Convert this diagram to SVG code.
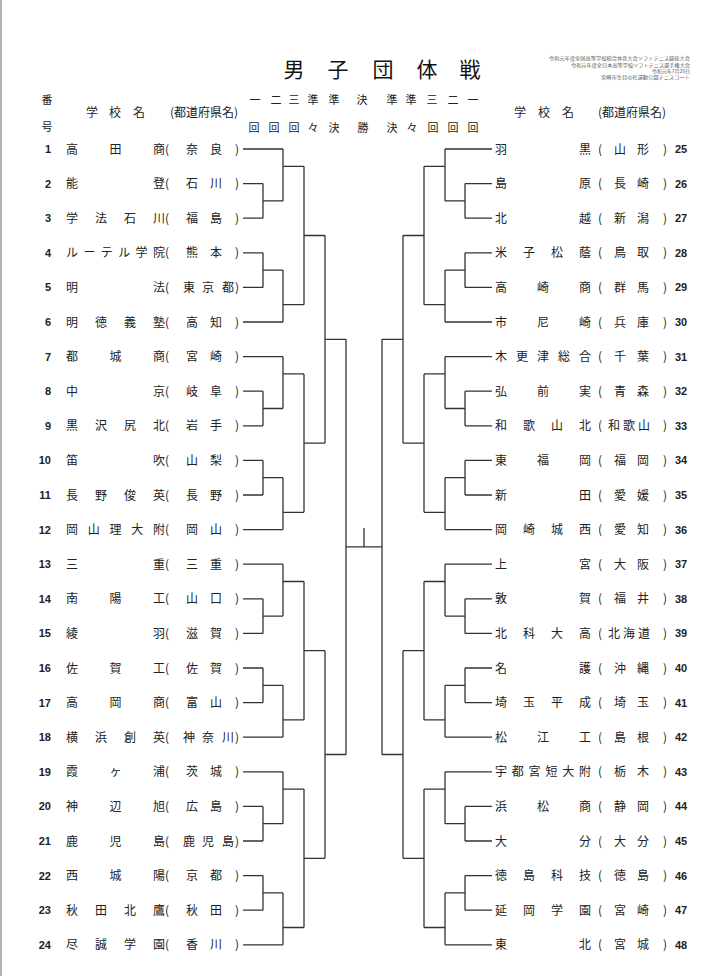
<svg xmlns="http://www.w3.org/2000/svg" width="728" height="976" viewBox="0 0 728 976">
<style>
.t{font-family:"Noto Sans CJK JP","Noto Sans CJK SC",sans-serif;font-size:12px;fill:#222;text-anchor:middle}
.h{font-family:"Noto Sans CJK JP","Noto Sans CJK SC",sans-serif;font-size:11px;fill:#222;text-anchor:middle}
.ttl{font-family:"Noto Sans CJK JP","Noto Sans CJK SC",sans-serif;font-size:21px;fill:#111;text-anchor:middle}
.sm{font-family:"Noto Sans CJK JP","Noto Sans CJK SC",sans-serif;font-size:4.2px;fill:#555;text-anchor:end}
.n{font-family:"Liberation Sans",Arial,sans-serif;font-weight:bold;font-size:11px;fill:#222}
.nl{text-anchor:end}
.ln{fill:none;stroke:#333;stroke-width:1.3}
</style>
<defs>
<path id="gL" d="M243,0H283M243,34.6H263M243,69.2H263M263,34.6V69.2M263,51.9H283M283,0V51.9M283,17.3H304M243,103.8H263M243,138.4H263M263,103.8V138.4M263,121.1H283M243,173H283M283,121.1V173M283,155.7H304M304,17.3V155.7M304,86.5H325"/>
<path id="gR" d="M492,0H445M492,34.6H465M492,69.2H465M465,34.6V69.2M465,51.9H445M445,0V51.9M445,17.3H424M492,103.8H465M492,138.4H465M465,103.8V138.4M465,121.1H445M492,173H445M445,121.1V173M445,155.7H424M424,17.3V155.7M424,86.5H403"/>
</defs>
<rect width="728" height="976" fill="#fff"/>
<line x1="1" y1="0" x2="1" y2="976" stroke="#999" stroke-width="1.5"/>

<g id="header">
<text class="ttl" x="294 338 383 427 470" y="77">男子団体戦</text>
<text class="sm" x="690" y="60.3" textLength="141" lengthAdjust="spacingAndGlyphs">令和元年度全国高等学校総合体育大会ソフトテニス競技大会</text>
<text class="sm" x="690" y="66.6" textLength="119" lengthAdjust="spacingAndGlyphs">令和元年度全日本高等学校ソフトテニス選手権大会</text>
<text class="sm" x="690" y="72.9" textLength="38" lengthAdjust="spacingAndGlyphs">令和元年7月29日</text>
<text class="sm" x="690" y="79.2" textLength="89" lengthAdjust="spacingAndGlyphs">宮崎市生目の杜運動公園テニスコート</text>
<text class="h" x="47" y="104">番</text>
<text class="h" x="47" y="131">号</text>
<text class="t" x="92 115 139" y="117">学校名</text>
<text class="t" x="204" y="117">(都道府県名)</text>
<text class="t" x="520 544 568" y="117">学校名</text>
<text class="t" x="632" y="117">(都道府県名)</text>
<text class="h" x="255 276 294 313 334 362 392 411 432 453 473" y="104">一二三準準決準準三二一</text>
<text class="h" x="254 274 294 313 334 363 392 412 433 453 473" y="132">回回回々決勝決々回回回</text>
</g>

<g id="connectors" class="ln">
<use href="#gL" y="149"/>
<use href="#gL" y="356.6"/>
<use href="#gL" y="564.2"/>
<use href="#gL" y="771.8"/>
<use href="#gR" y="149"/>
<use href="#gR" y="356.6"/>
<use href="#gR" y="564.2"/>
<use href="#gR" y="771.8"/>
<path d="M325,235.5V443.1M325,339.3H346M325,650.7V858.3M325,754.5H346M346,339.3V754.5M346,546.9H382M382,339.3V754.5M403,235.5V443.1M382,339.3H403M403,650.7V858.3M382,754.5H403M364,528V546.9"/>
</g>

<g id="t1" transform="translate(0,149)"><text class="n nl" x="51" y="4">1</text><text class="t" x="72 115.5 159" y="4.5">高田商</text><text class="t" x="167" y="4.5">(</text><text class="t" x="192 216" y="4.5">奈良</text><text class="t" x="237" y="4.5">)</text></g>
<g id="t2" transform="translate(0,183.6)"><text class="n nl" x="51" y="4">2</text><text class="t" x="72 159" y="4.5">能登</text><text class="t" x="167" y="4.5">(</text><text class="t" x="192 216" y="4.5">石川</text><text class="t" x="237" y="4.5">)</text></g>
<g id="t3" transform="translate(0,218.2)"><text class="n nl" x="51" y="4">3</text><text class="t" x="72 101 130 159" y="4.5">学法石川</text><text class="t" x="167" y="4.5">(</text><text class="t" x="192 216" y="4.5">福島</text><text class="t" x="237" y="4.5">)</text></g>
<g id="t4" transform="translate(0,252.8)"><text class="n nl" x="51" y="4">4</text><text class="t" x="72 89.4 106.8 124.2 141.6 159" y="4.5">ルーテル学院</text><text class="t" x="167" y="4.5">(</text><text class="t" x="192 216" y="4.5">熊本</text><text class="t" x="237" y="4.5">)</text></g>
<g id="t5" transform="translate(0,287.4)"><text class="n nl" x="51" y="4">5</text><text class="t" x="72 159" y="4.5">明法</text><text class="t" x="167" y="4.5">(</text><text class="t" x="189 208 228" y="4.5">東京都</text><text class="t" x="237" y="4.5">)</text></g>
<g id="t6" transform="translate(0,322)"><text class="n nl" x="51" y="4">6</text><text class="t" x="72 101 130 159" y="4.5">明徳義塾</text><text class="t" x="167" y="4.5">(</text><text class="t" x="192 216" y="4.5">高知</text><text class="t" x="237" y="4.5">)</text></g>
<g id="t7" transform="translate(0,356.6)"><text class="n nl" x="51" y="4">7</text><text class="t" x="72 115.5 159" y="4.5">都城商</text><text class="t" x="167" y="4.5">(</text><text class="t" x="192 216" y="4.5">宮崎</text><text class="t" x="237" y="4.5">)</text></g>
<g id="t8" transform="translate(0,391.2)"><text class="n nl" x="51" y="4">8</text><text class="t" x="72 159" y="4.5">中京</text><text class="t" x="167" y="4.5">(</text><text class="t" x="192 216" y="4.5">岐阜</text><text class="t" x="237" y="4.5">)</text></g>
<g id="t9" transform="translate(0,425.8)"><text class="n nl" x="51" y="4">9</text><text class="t" x="72 101 130 159" y="4.5">黒沢尻北</text><text class="t" x="167" y="4.5">(</text><text class="t" x="192 216" y="4.5">岩手</text><text class="t" x="237" y="4.5">)</text></g>
<g id="t10" transform="translate(0,460.4)"><text class="n nl" x="51" y="4">10</text><text class="t" x="72 159" y="4.5">笛吹</text><text class="t" x="167" y="4.5">(</text><text class="t" x="192 216" y="4.5">山梨</text><text class="t" x="237" y="4.5">)</text></g>
<g id="t11" transform="translate(0,495)"><text class="n nl" x="51" y="4">11</text><text class="t" x="72 101 130 159" y="4.5">長野俊英</text><text class="t" x="167" y="4.5">(</text><text class="t" x="192 216" y="4.5">長野</text><text class="t" x="237" y="4.5">)</text></g>
<g id="t12" transform="translate(0,529.6)"><text class="n nl" x="51" y="4">12</text><text class="t" x="72 93.8 115.5 137.3 159" y="4.5">岡山理大附</text><text class="t" x="167" y="4.5">(</text><text class="t" x="192 216" y="4.5">岡山</text><text class="t" x="237" y="4.5">)</text></g>
<g id="t13" transform="translate(0,564.2)"><text class="n nl" x="51" y="4">13</text><text class="t" x="72 159" y="4.5">三重</text><text class="t" x="167" y="4.5">(</text><text class="t" x="192 216" y="4.5">三重</text><text class="t" x="237" y="4.5">)</text></g>
<g id="t14" transform="translate(0,598.8)"><text class="n nl" x="51" y="4">14</text><text class="t" x="72 115.5 159" y="4.5">南陽工</text><text class="t" x="167" y="4.5">(</text><text class="t" x="192 216" y="4.5">山口</text><text class="t" x="237" y="4.5">)</text></g>
<g id="t15" transform="translate(0,633.4)"><text class="n nl" x="51" y="4">15</text><text class="t" x="72 159" y="4.5">綾羽</text><text class="t" x="167" y="4.5">(</text><text class="t" x="192 216" y="4.5">滋賀</text><text class="t" x="237" y="4.5">)</text></g>
<g id="t16" transform="translate(0,668)"><text class="n nl" x="51" y="4">16</text><text class="t" x="72 115.5 159" y="4.5">佐賀工</text><text class="t" x="167" y="4.5">(</text><text class="t" x="192 216" y="4.5">佐賀</text><text class="t" x="237" y="4.5">)</text></g>
<g id="t17" transform="translate(0,702.6)"><text class="n nl" x="51" y="4">17</text><text class="t" x="72 115.5 159" y="4.5">高岡商</text><text class="t" x="167" y="4.5">(</text><text class="t" x="192 216" y="4.5">富山</text><text class="t" x="237" y="4.5">)</text></g>
<g id="t18" transform="translate(0,737.2)"><text class="n nl" x="51" y="4">18</text><text class="t" x="72 101 130 159" y="4.5">横浜創英</text><text class="t" x="167" y="4.5">(</text><text class="t" x="189 208 228" y="4.5">神奈川</text><text class="t" x="237" y="4.5">)</text></g>
<g id="t19" transform="translate(0,771.8)"><text class="n nl" x="51" y="4">19</text><text class="t" x="72 115.5 159" y="4.5">霞ヶ浦</text><text class="t" x="167" y="4.5">(</text><text class="t" x="192 216" y="4.5">茨城</text><text class="t" x="237" y="4.5">)</text></g>
<g id="t20" transform="translate(0,806.4)"><text class="n nl" x="51" y="4">20</text><text class="t" x="72 115.5 159" y="4.5">神辺旭</text><text class="t" x="167" y="4.5">(</text><text class="t" x="192 216" y="4.5">広島</text><text class="t" x="237" y="4.5">)</text></g>
<g id="t21" transform="translate(0,841)"><text class="n nl" x="51" y="4">21</text><text class="t" x="72 115.5 159" y="4.5">鹿児島</text><text class="t" x="167" y="4.5">(</text><text class="t" x="189 208 228" y="4.5">鹿児島</text><text class="t" x="237" y="4.5">)</text></g>
<g id="t22" transform="translate(0,875.6)"><text class="n nl" x="51" y="4">22</text><text class="t" x="72 115.5 159" y="4.5">西城陽</text><text class="t" x="167" y="4.5">(</text><text class="t" x="192 216" y="4.5">京都</text><text class="t" x="237" y="4.5">)</text></g>
<g id="t23" transform="translate(0,910.2)"><text class="n nl" x="51" y="4">23</text><text class="t" x="72 101 130 159" y="4.5">秋田北鷹</text><text class="t" x="167" y="4.5">(</text><text class="t" x="192 216" y="4.5">秋田</text><text class="t" x="237" y="4.5">)</text></g>
<g id="t24" transform="translate(0,944.8)"><text class="n nl" x="51" y="4">24</text><text class="t" x="72 101 130 159" y="4.5">尽誠学園</text><text class="t" x="167" y="4.5">(</text><text class="t" x="192 216" y="4.5">香川</text><text class="t" x="237" y="4.5">)</text></g>

<g id="t25" transform="translate(0,149)"><text class="t" x="501 585" y="4.5">羽黒</text><text class="t" x="600" y="4.5">(</text><text class="t" x="620 643" y="4.5">山形</text><text class="t" x="665" y="4.5">)</text><text class="n" x="675" y="4">25</text></g>
<g id="t26" transform="translate(0,183.6)"><text class="t" x="501 585" y="4.5">島原</text><text class="t" x="600" y="4.5">(</text><text class="t" x="620 643" y="4.5">長崎</text><text class="t" x="665" y="4.5">)</text><text class="n" x="675" y="4">26</text></g>
<g id="t27" transform="translate(0,218.2)"><text class="t" x="501 585" y="4.5">北越</text><text class="t" x="600" y="4.5">(</text><text class="t" x="620 643" y="4.5">新潟</text><text class="t" x="665" y="4.5">)</text><text class="n" x="675" y="4">27</text></g>
<g id="t28" transform="translate(0,252.8)"><text class="t" x="501 529 557 585" y="4.5">米子松蔭</text><text class="t" x="600" y="4.5">(</text><text class="t" x="620 643" y="4.5">鳥取</text><text class="t" x="665" y="4.5">)</text><text class="n" x="675" y="4">28</text></g>
<g id="t29" transform="translate(0,287.4)"><text class="t" x="501 543 585" y="4.5">高崎商</text><text class="t" x="600" y="4.5">(</text><text class="t" x="620 643" y="4.5">群馬</text><text class="t" x="665" y="4.5">)</text><text class="n" x="675" y="4">29</text></g>
<g id="t30" transform="translate(0,322)"><text class="t" x="501 543 585" y="4.5">市尼崎</text><text class="t" x="600" y="4.5">(</text><text class="t" x="620 643" y="4.5">兵庫</text><text class="t" x="665" y="4.5">)</text><text class="n" x="675" y="4">30</text></g>
<g id="t31" transform="translate(0,356.6)"><text class="t" x="501 522 543 564 585" y="4.5">木更津総合</text><text class="t" x="600" y="4.5">(</text><text class="t" x="620 643" y="4.5">千葉</text><text class="t" x="665" y="4.5">)</text><text class="n" x="675" y="4">31</text></g>
<g id="t32" transform="translate(0,391.2)"><text class="t" x="501 543 585" y="4.5">弘前実</text><text class="t" x="600" y="4.5">(</text><text class="t" x="620 643" y="4.5">青森</text><text class="t" x="665" y="4.5">)</text><text class="n" x="675" y="4">32</text></g>
<g id="t33" transform="translate(0,425.8)"><text class="t" x="501 529 557 585" y="4.5">和歌山北</text><text class="t" x="600" y="4.5">(</text><text class="t" x="614 629 644" y="4.5">和歌山</text><text class="t" x="665" y="4.5">)</text><text class="n" x="675" y="4">33</text></g>
<g id="t34" transform="translate(0,460.4)"><text class="t" x="501 543 585" y="4.5">東福岡</text><text class="t" x="600" y="4.5">(</text><text class="t" x="620 643" y="4.5">福岡</text><text class="t" x="665" y="4.5">)</text><text class="n" x="675" y="4">34</text></g>
<g id="t35" transform="translate(0,495)"><text class="t" x="501 585" y="4.5">新田</text><text class="t" x="600" y="4.5">(</text><text class="t" x="620 643" y="4.5">愛媛</text><text class="t" x="665" y="4.5">)</text><text class="n" x="675" y="4">35</text></g>
<g id="t36" transform="translate(0,529.6)"><text class="t" x="501 529 557 585" y="4.5">岡崎城西</text><text class="t" x="600" y="4.5">(</text><text class="t" x="620 643" y="4.5">愛知</text><text class="t" x="665" y="4.5">)</text><text class="n" x="675" y="4">36</text></g>
<g id="t37" transform="translate(0,564.2)"><text class="t" x="501 585" y="4.5">上宮</text><text class="t" x="600" y="4.5">(</text><text class="t" x="620 643" y="4.5">大阪</text><text class="t" x="665" y="4.5">)</text><text class="n" x="675" y="4">37</text></g>
<g id="t38" transform="translate(0,598.8)"><text class="t" x="501 585" y="4.5">敦賀</text><text class="t" x="600" y="4.5">(</text><text class="t" x="620 643" y="4.5">福井</text><text class="t" x="665" y="4.5">)</text><text class="n" x="675" y="4">38</text></g>
<g id="t39" transform="translate(0,633.4)"><text class="t" x="501 529 557 585" y="4.5">北科大高</text><text class="t" x="600" y="4.5">(</text><text class="t" x="614 629 644" y="4.5">北海道</text><text class="t" x="665" y="4.5">)</text><text class="n" x="675" y="4">39</text></g>
<g id="t40" transform="translate(0,668)"><text class="t" x="501 585" y="4.5">名護</text><text class="t" x="600" y="4.5">(</text><text class="t" x="620 643" y="4.5">沖縄</text><text class="t" x="665" y="4.5">)</text><text class="n" x="675" y="4">40</text></g>
<g id="t41" transform="translate(0,702.6)"><text class="t" x="501 529 557 585" y="4.5">埼玉平成</text><text class="t" x="600" y="4.5">(</text><text class="t" x="620 643" y="4.5">埼玉</text><text class="t" x="665" y="4.5">)</text><text class="n" x="675" y="4">41</text></g>
<g id="t42" transform="translate(0,737.2)"><text class="t" x="501 543 585" y="4.5">松江工</text><text class="t" x="600" y="4.5">(</text><text class="t" x="620 643" y="4.5">島根</text><text class="t" x="665" y="4.5">)</text><text class="n" x="675" y="4">42</text></g>
<g id="t43" transform="translate(0,771.8)"><text class="t" x="501 517.8 534.6 551.4 568.2 585" y="4.5">宇都宮短大附</text><text class="t" x="600" y="4.5">(</text><text class="t" x="620 643" y="4.5">栃木</text><text class="t" x="665" y="4.5">)</text><text class="n" x="675" y="4">43</text></g>
<g id="t44" transform="translate(0,806.4)"><text class="t" x="501 543 585" y="4.5">浜松商</text><text class="t" x="600" y="4.5">(</text><text class="t" x="620 643" y="4.5">静岡</text><text class="t" x="665" y="4.5">)</text><text class="n" x="675" y="4">44</text></g>
<g id="t45" transform="translate(0,841)"><text class="t" x="501 585" y="4.5">大分</text><text class="t" x="600" y="4.5">(</text><text class="t" x="620 643" y="4.5">大分</text><text class="t" x="665" y="4.5">)</text><text class="n" x="675" y="4">45</text></g>
<g id="t46" transform="translate(0,875.6)"><text class="t" x="501 529 557 585" y="4.5">徳島科技</text><text class="t" x="600" y="4.5">(</text><text class="t" x="620 643" y="4.5">徳島</text><text class="t" x="665" y="4.5">)</text><text class="n" x="675" y="4">46</text></g>
<g id="t47" transform="translate(0,910.2)"><text class="t" x="501 529 557 585" y="4.5">延岡学園</text><text class="t" x="600" y="4.5">(</text><text class="t" x="620 643" y="4.5">宮崎</text><text class="t" x="665" y="4.5">)</text><text class="n" x="675" y="4">47</text></g>
<g id="t48" transform="translate(0,944.8)"><text class="t" x="501 585" y="4.5">東北</text><text class="t" x="600" y="4.5">(</text><text class="t" x="620 643" y="4.5">宮城</text><text class="t" x="665" y="4.5">)</text><text class="n" x="675" y="4">48</text></g>
</svg>
